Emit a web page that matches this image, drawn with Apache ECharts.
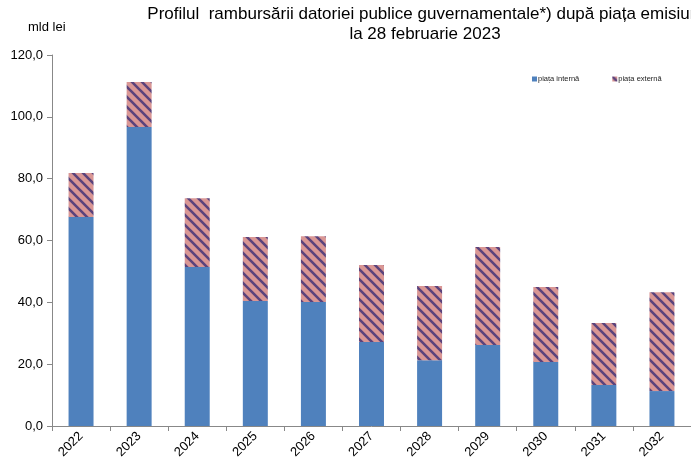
<!DOCTYPE html>
<html lang="ro">
<head>
<meta charset="UTF-8">
<title>Profilul rambursarii datoriei</title>
<script src="https://cdn.jsdelivr.net/npm/echarts@6/dist/echarts.min.js"></script>
<style>
  body { margin: 0; background: #fff; }
  #main { width: 691px; height: 465px; }
</style>
</head>
<body>
<div id="main"></div>
<script>
  // ani
  const years = ['2022', '2023', '2024', '2025', '2026', '2027', '2028', '2029', '2030', '2031', '2032'];
  // piata interna, mld lei
  const intern = [67.6, 96.7, 51.4, 40.4, 40.1, 27.2, 21.3, 26.2, 20.7, 13.3, 11.3];
  // piata externa, mld lei
  const extern = [14.2, 14.6, 22.3, 20.7, 21.3, 24.9, 24.0, 31.7, 24.3, 20.0, 32.0];
  const yTicks = [0, 20, 40, 60, 80, 100, 120];

  // hasura roz cu dungi mov
  function stripes() {
    const c = document.createElement('canvas');
    c.width = 10; c.height = 10;
    const g = c.getContext('2d');
    g.fillStyle = '#d99694';
    g.fillRect(0, 0, 10, 10);
    g.strokeStyle = '#5b437c';
    g.lineWidth = 2.6;
    g.beginPath();
    g.moveTo(-2, -2); g.lineTo(12, 12);
    g.moveTo(-7, 3); g.lineTo(7, 17);
    g.moveTo(3, -7); g.lineTo(17, 7);
    g.stroke();
    return c;
  }
  const pattern = { image: stripes(), repeat: 'repeat' };

  const chart = echarts.init(document.getElementById('main'));
  chart.setOption({
    animation: false,
    graphic: [
      { type: 'text', left: 28, top: 21, style: { text: 'mld lei', font: '13px "Liberation Sans", Arial', fill: '#000' } },
      { type: 'text', x: 427, y: 6, style: { text: 'Profilul  rambursării datoriei publice guvernamentale*) după piața emisiunii', textAlign: 'center', font: '17px "Liberation Sans", Arial', fill: '#000' } },
      { type: 'text', x: 425, y: 26, style: { text: 'la 28 februarie 2023', textAlign: 'center', font: '17px "Liberation Sans", Arial', fill: '#000' } }
    ],
    legend: {
      left: 527, top: 70,
      itemWidth: 5, itemHeight: 5, itemGap: 33,
      icon: 'rect',
      textStyle: { fontSize: 7.5, color: '#222', padding: [0, 0, 0, -4] },
      data: ['piața internă', 'piața externă']
    },
    grid: { left: 52, right: 0, top: 55, bottom: 39 },
    xAxis: {
      type: 'category',
      data: years,
      axisLine: { lineStyle: { color: '#888' } },
      axisTick: { show: true, length: 5, lineStyle: { color: '#888' } },
      axisLabel: { rotate: 45, fontSize: 13, color: '#000', fontFamily: 'Liberation Sans', margin: 8 }
    },
    yAxis: {
      type: 'value',
      min: yTicks[0], max: yTicks[yTicks.length - 1], interval: 20,
      splitLine: { show: false },
      axisLine: { show: true, lineStyle: { color: '#888' } },
      axisTick: { show: true, length: 5, lineStyle: { color: '#888' } },
      axisLabel: {
        fontSize: 13, color: '#000', fontFamily: 'Liberation Sans', margin: 9,
        formatter: v => v.toFixed(1).replace('.', ',')
      }
    },
    series: [
      { name: 'piața internă', type: 'bar', stack: 't', data: intern, barWidth: '43%', itemStyle: { color: '#4f81bd' } },
      { name: 'piața externă', type: 'bar', stack: 't', data: extern, barWidth: '43%', itemStyle: { color: pattern } }
    ]
  });
</script>
</body>
</html>
